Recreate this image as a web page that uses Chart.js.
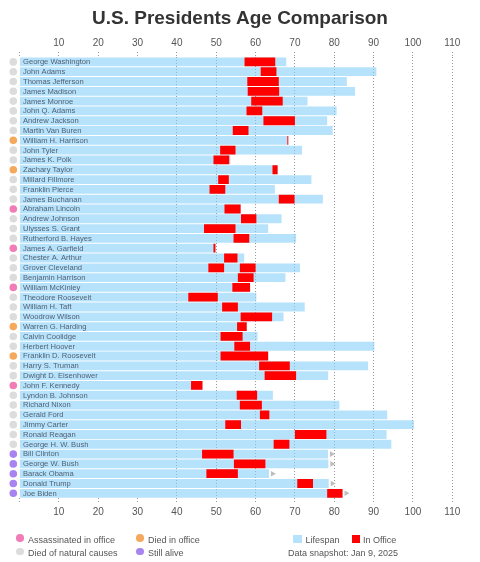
<!DOCTYPE html>
<html>
<head>
<meta charset="utf-8">
<script src="https://cdn.jsdelivr.net/npm/chart.js@4.4.1/dist/chart.umd.min.js"></script>
<style>
  body { margin: 0; background: #fff; font-family: "Liberation Sans", Arial, sans-serif; }
  #wrap { position: relative; width: 480px; height: 562px; }
  #wrap canvas { position: absolute; left: 0; top: 0; }
  h1 { position: absolute; left: 0; top: 6px; width: 480px; margin: 0; text-align: center;
       font-size: 19px; line-height: 24px; font-weight: bold; color: #333; }
  .lg { position: absolute; font-size: 9px; line-height: 12px; color: #555; white-space: nowrap; }
  .dot { position: absolute; width: 7.6px; height: 7.6px; border-radius: 50%; }
  .sq { position: absolute; width: 8.5px; height: 8px; }
</style>
</head>
<body>
<div id="wrap">
  <canvas id="chart" width="480" height="562"></canvas>
  <h1>U.S. Presidents Age Comparison</h1>

  <div class="dot" style="left:16.2px;top:534.2px;background:#f07db5"></div>
  <div class="lg" style="left:28px;top:534px">Assassinated in office</div>
  <div class="dot" style="left:16.2px;top:547.7px;background:#dcdcdc"></div>
  <div class="lg" style="left:28px;top:546.5px">Died of natural causes</div>
  <div class="dot" style="left:136.2px;top:534.2px;background:#f5a95c"></div>
  <div class="lg" style="left:148px;top:534px">Died in office</div>
  <div class="dot" style="left:136.2px;top:547.7px;background:#a784f0"></div>
  <div class="lg" style="left:148px;top:546.5px">Still alive</div>

  <div class="sq" style="left:293.3px;top:534.7px;background:rgba(135,206,250,0.6)"></div>
  <div class="lg" style="left:305.5px;top:534px">Lifespan</div>
  <div class="sq" style="left:351.5px;top:534.7px;background:#ff0000"></div>
  <div class="lg" style="left:363px;top:534px">In Office</div>
  <div class="lg" style="left:288px;top:546.5px">Data snapshot: Jan 9, 2025</div>
</div>

<script>
const presidents = [
  'George Washington', 'John Adams', 'Thomas Jefferson', 'James Madison', 'James Monroe',
  'John Q. Adams', 'Andrew Jackson', 'Martin Van Buren', 'William H. Harrison', 'John Tyler',
  'James K. Polk', 'Zachary Taylor', 'Millard Fillmore', 'Franklin Pierce', 'James Buchanan',
  'Abraham Lincoln', 'Andrew Johnson', 'Ulysses S. Grant', 'Rutherford B. Hayes', 'James A. Garfield',
  'Chester A. Arthur', 'Grover Cleveland', 'Benjamin Harrison', 'William McKinley', 'Theodore Roosevelt',
  'William H. Taft', 'Woodrow Wilson', 'Warren G. Harding', 'Calvin Coolidge', 'Herbert Hoover',
  'Franklin D. Roosevelt', 'Harry S. Truman', 'Dwight D. Eisenhower', 'John F. Kennedy', 'Lyndon B. Johnson',
  'Richard Nixon', 'Gerald Ford', 'Jimmy Carter', 'Ronald Reagan', 'George H. W. Bush',
  'Bill Clinton', 'George W. Bush', 'Barack Obama', 'Donald Trump', 'Joe Biden'
];

// age at death (or age on snapshot date if still alive)
const lifespan = [
  67.8, 90.7, 83.2, 85.3, 73.2, 80.6, 78.2, 79.6, 68.15, 71.8,
  53.6, 65.6, 74.2, 64.9, 77.1, 56.2, 66.6, 63.2, 70.3, 49.8,
  57.1, 71.3, 67.6, 58.6, 60.2, 72.5, 67.1, 57.75, 60.5, 90.2,
  63.2, 88.6, 78.45, 46.5, 64.4, 81.3, 93.45, 100.25, 93.3, 94.5,
  78.4, 78.5, 63.4, 78.6, 82.1
];

const officeStart = [
  57.2, 61.3, 57.9, 58.0, 58.9, 57.7, 62.0, 54.2, 68.07, 51.0,
  49.3, 64.3, 50.5, 48.3, 65.9, 52.1, 56.3, 46.9, 54.4, 49.3,
  52.0, 48.0, 55.5, 54.1, 42.9, 51.5, 56.2, 55.3, 51.1, 54.6,
  51.1, 60.9, 62.3, 43.6, 55.2, 56.0, 61.1, 52.3, 70.0, 64.6,
  46.4, 54.5, 47.5, 70.6, 78.2
];

const officeEnd = [
  65.0, 65.3, 65.9, 66.0, 66.9, 61.7, 70.0, 58.2, 68.15, 54.9,
  53.3, 65.6, 53.2, 52.3, 69.9, 56.2, 60.2, 54.9, 58.4, 49.8,
  55.4, 52.0, 59.5, 58.6, 50.4, 55.5, 64.2, 57.75, 56.7, 58.6,
  63.2, 68.7, 70.3, 46.5, 60.4, 61.6, 63.5, 56.3, 78.0, 68.6,
  54.4, 62.5, 55.5, 74.6, 82.1
];

// non-consecutive second term
const secondTermPresident = 'Grover Cleveland';
const secondTerm = [56.0, 60.0];

const status = [
  'natural', 'natural', 'natural', 'natural', 'natural', 'natural', 'natural', 'natural', 'office', 'natural',
  'natural', 'office', 'natural', 'natural', 'natural', 'assassinated', 'natural', 'natural', 'natural', 'assassinated',
  'natural', 'natural', 'natural', 'assassinated', 'natural', 'natural', 'natural', 'office', 'natural', 'natural',
  'office', 'natural', 'natural', 'assassinated', 'natural', 'natural', 'natural', 'natural', 'natural', 'natural',
  'alive', 'alive', 'alive', 'alive', 'alive'
];

const ageTicks = [0, 10, 20, 30, 40, 50, 60, 70, 80, 90, 100, 110];

const statusColors = {
  assassinated: '#f07db5',
  office: '#f5a95c',
  natural: '#dcdcdc',
  alive: '#a784f0'
};

const lifespanColor = 'rgba(135,206,250,0.6)';
const officeColor = '#ff0000';

const rowDecor = {
  id: 'rowDecor',
  afterDatasetsDraw(chart) {
    const { ctx, scales: { x, y } } = chart;
    ctx.save();
    presidents.forEach((name, i) => {
      const cy = y.getPixelForValue(i);
      ctx.fillStyle = statusColors[status[i]];
      ctx.beginPath();
      ctx.arc(x.left - 6.2, cy, 3.8, 0, Math.PI * 2);
      ctx.fill();

      ctx.fillStyle = '#506273';
      ctx.font = '7.6px "Liberation Sans", Arial, sans-serif';
      ctx.textBaseline = 'middle';
      ctx.textAlign = 'left';
      ctx.fillText(name, x.left + 3.5, cy + 0.3);

      if (status[i] === 'alive') {
        const ex = x.getPixelForValue(lifespan[i]) + 2;
        ctx.fillStyle = '#bdbdbd';
        ctx.beginPath();
        ctx.moveTo(ex, cy - 2.8);
        ctx.lineTo(ex + 5, cy);
        ctx.lineTo(ex, cy + 2.8);
        ctx.closePath();
        ctx.fill();
      }
    });
    ctx.restore();
  }
};

const gridColor = c => (c.tick && c.tick.value >= 40 ? '#999' : 'rgba(0,0,0,0)');

const axisBase = {
  type: 'linear',
  min: 0,
  max: 110,
  afterBuildTicks: s => { s.ticks = ageTicks.map(v => ({ value: v })); },
  ticks: {
    callback: v => (v === 0 ? '' : v),
    color: '#555',
    font: { size: 10, family: '"Liberation Sans", Arial, sans-serif' },
    padding: 3,
    maxRotation: 0,
    autoSkip: false
  },
  border: { display: false, dash: [1, 2] }
};

new Chart(document.getElementById('chart'), {
  type: 'bar',
  data: {
    labels: presidents,
    datasets: [
      {
        label: 'In Office',
        data: presidents.map((n, i) => [officeStart[i], officeEnd[i]]),
        backgroundColor: officeColor,
        grouped: false,
        barPercentage: 0.9,
        categoryPercentage: 1,
        minBarLength: 1,
        order: 1
      },
      {
        label: 'In Office (second term)',
        data: presidents.map(n => (n === secondTermPresident ? secondTerm : null)),
        backgroundColor: officeColor,
        grouped: false,
        barPercentage: 0.9,
        categoryPercentage: 1,
        order: 1
      },
      {
        label: 'Lifespan',
        data: presidents.map((n, i) => [0, lifespan[i]]),
        backgroundColor: lifespanColor,
        grouped: false,
        barPercentage: 0.9,
        categoryPercentage: 1,
        order: 2
      }
    ]
  },
  options: {
    indexAxis: 'y',
    responsive: false,
    animation: false,
    layout: { padding: { left: 19.5, right: 27.7, top: 30, bottom: 41.8 } },
    plugins: {
      legend: { display: false },
      tooltip: { enabled: false },
      title: { display: false }
    },
    scales: {
      y: { display: false, offset: true },
      x: {
        ...axisBase,
        position: 'bottom',
        afterFit: s => { s.height = 22; },
        grid: {
          color: gridColor,
          tickColor: '#999',
          tickBorderDash: [1, 2],
          tickLength: 5
        }
      },
      x2: {
        ...axisBase,
        axis: 'x',
        position: 'top',
        afterFit: s => { s.height = 27; },
        grid: {
          drawOnChartArea: false,
          tickColor: '#999',
          tickBorderDash: [1, 2],
          tickLength: 5
        }
      }
    }
  },
  plugins: [rowDecor]
});
</script>
</body>
</html>
